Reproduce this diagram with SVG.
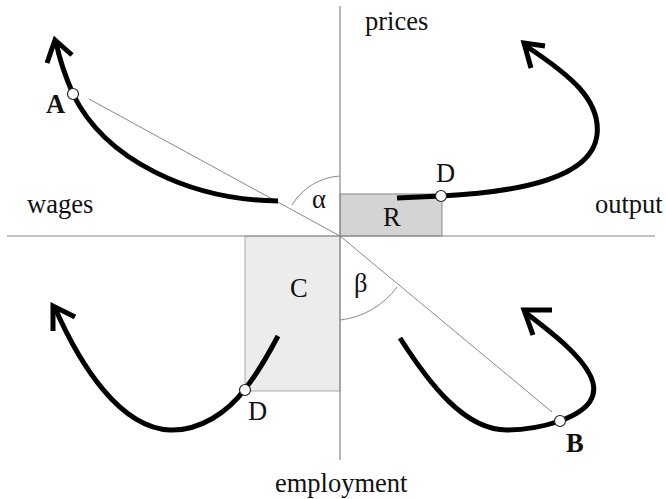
<svg xmlns="http://www.w3.org/2000/svg" width="666" height="499" viewBox="0 0 666 499">
<style>
.axis{stroke:#888;stroke-width:1.2;fill:none}
.thin{stroke:#888;stroke-width:1;fill:none}
.curve{stroke:#000;stroke-width:5;fill:none;stroke-linecap:butt}
.arrow{stroke:#000;stroke-width:5;fill:none;stroke-linejoin:miter;stroke-linecap:butt}
.pt{fill:#fff;stroke:#222;stroke-width:1.2}
.lbl{font-family:"Liberation Serif","Times New Roman",serif;font-size:26.5px;fill:#111}
.bold{font-weight:bold}
</style>
<rect width="666" height="499" fill="#fff"/>
<g id="quadrants">
<rect id="R-box" x="340" y="194" width="102" height="42" fill="#d4d4d4" stroke="#888" stroke-width="1"/>
<rect id="C-box" x="245" y="236" width="95" height="155" fill="#ececec" stroke="#aaa" stroke-width="1"/>
</g>
<g id="axes">
<line class="axis" x1="340" y1="6" x2="340" y2="460"/>
<line class="axis" x1="7" y1="236" x2="655" y2="236"/>
</g>
<g id="connectors">
<line class="thin" x1="89" y1="99" x2="340" y2="236"/>
<line class="thin" x1="340" y1="236" x2="552" y2="412"/>
<path class="thin" d="M292,205 A60,60 0 0 1 340,176"/>
<path class="thin" d="M340,320 A82,82 0 0 0 397,287"/>
</g>
<g id="curve-A">
<path class="curve" d="M278,201 C190,200 105,160 73,94 C66,78 60,62 56,42"/>
<polyline class="arrow" points="47,63 55,40 72,55"/>
<circle class="pt" cx="73" cy="94" r="5.5"/>
</g>
<g id="curve-output">
<path class="curve" d="M397,198 L441,196 C520,192 592,178 597,135 C601,100 570,75 526,46"/>
<polyline class="arrow" points="545,46 524,43 531,68"/>
<circle class="pt" cx="441" cy="196" r="5.5"/>
</g>
<g id="curve-employment">
<path class="curve" d="M278,336 C268,355 257,374 245,389 C228,412 200,431 170,430 C120,428 80,365 55,308"/>
<polyline class="arrow" points="53,331 53,306 75,317"/>
<circle class="pt" cx="245" cy="390" r="5.5"/>
</g>
<g id="curve-B">
<path class="curve" d="M400,338 C430,385 465,430 507,430 C530,430 545,426 560,421 C590,410 600,395 590,375 C580,355 555,335 526,313"/>
<polyline class="arrow" points="552,310 524,310 533,335"/>
<circle class="pt" cx="560" cy="421" r="5.5"/>
</g>
<g id="labels">
<text class="lbl" x="365" y="30">prices</text>
<text class="lbl" x="27" y="213">wages</text>
<text class="lbl" x="595" y="213">output</text>
<text class="lbl" x="275" y="492">employment</text>
<text class="lbl" x="312" y="208">α</text>
<text class="lbl" x="354" y="292">β</text>
<text class="lbl" x="383" y="226">R</text>
<text class="lbl" x="290" y="297">C</text>
<text class="lbl" x="436" y="182">D</text>
<text class="lbl" x="248" y="420">D</text>
<text class="lbl bold" x="46" y="113">A</text>
<text class="lbl bold" x="566" y="452">B</text>
</g>
</svg>
